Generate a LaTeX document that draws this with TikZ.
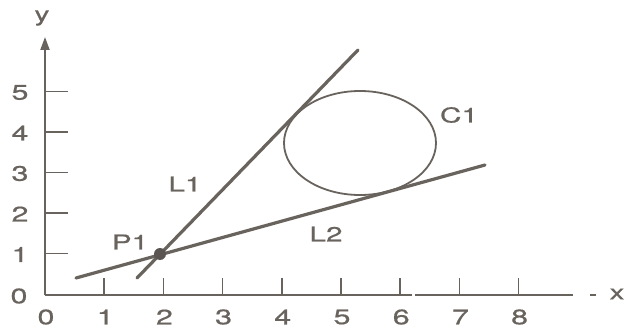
\documentclass[tikz,border=0pt]{standalone}
\usepackage{fontspec}
\setmainfont[FakeStretch=1.45,FakeBold=0.6]{TeX Gyre Heros}
\usetikzlibrary{arrows.meta,shapes.geometric}
\definecolor{ink}{RGB}{105,99,94}
\definecolor{dotc}{RGB}{90,85,83}
\begin{document}
\begin{tikzpicture}[x=1pt,y=-1pt,
  axisline/.style={draw=ink,line width=2pt},
  tickline/.style={draw=ink,line width=1.7pt},
  mainline/.style={draw=ink,line width=3.2pt,line cap=round},
  lbl/.style={text=ink,font=\fontsize{20.5}{20.5}\selectfont,inner sep=0pt},
  numlbl/.style={text=ink,font=\fontsize{21}{21}\selectfont,inner sep=0pt}]
\useasboundingbox[fill=white] (0,0) rectangle (627,329);
% axes
\coordinate (O) at (45,295);
\coordinate (ytop) at (45,37);
\coordinate (xgap1) at (412,295);
\coordinate (xgap2) at (415,295);
\coordinate (xend) at (573,295);
\draw[axisline,-{Triangle[length=13pt,width=9pt]}] (O) -- (ytop);
\draw[axisline] (O) -- (xgap1);
\draw[axisline] (xgap2) -- (xend);
\coordinate (xd1) at (590,295);
\coordinate (xd2) at (596,295);
\draw[ink,line width=1.5pt] (xd1) -- (xd2);
\node[lbl] (xl) at (617,294) {x};
\node[lbl] (yl) at (42,18) {y};
% y ticks
\foreach \v/\py in {1/253.5,2/213,3/172.5,4/132,5/91.5}{
  \draw[tickline] (45,\py) -- (68,\py);
  \node[numlbl] (yt\v) at (20,\py+1) {\v};
}
\node[numlbl] (yt0) at (19,296) {0};
% x ticks
\foreach \v in {1,...,8}{
  \pgfmathsetmacro{\px}{45+59.2*\v}
  \draw[tickline] (\px,295) -- (\px,278);
  \node[numlbl] (xt\v) at (\px+1,317) {\v};
}
\node[numlbl] (xt0) at (46,317) {0};
% lines
\coordinate (L1a) at (137,278);
\coordinate (L1b) at (358,50);
\coordinate (L2a) at (76,278);
\coordinate (L2b) at (485,165);
\draw[mainline] (L1a) -- (L1b);
\draw[mainline] (L2a) -- (L2b);
% circle
\node[draw=ink,line width=1.8pt,ellipse,inner sep=0pt,minimum width=152pt,minimum height=104pt] (C) at (360,143) {};
% P1
\node[circle,fill=dotc,minimum size=12pt,inner sep=0pt] (P1) at (160,254) {};
% labels
\node[lbl] (L1) at (185,184) {L1};
\node[lbl] (P1l) at (130,242) {P1};
\node[lbl] (L2) at (326,234) {L2};
\node[lbl] (C1) at (459,115) {C1};
\end{tikzpicture}
\end{document}
